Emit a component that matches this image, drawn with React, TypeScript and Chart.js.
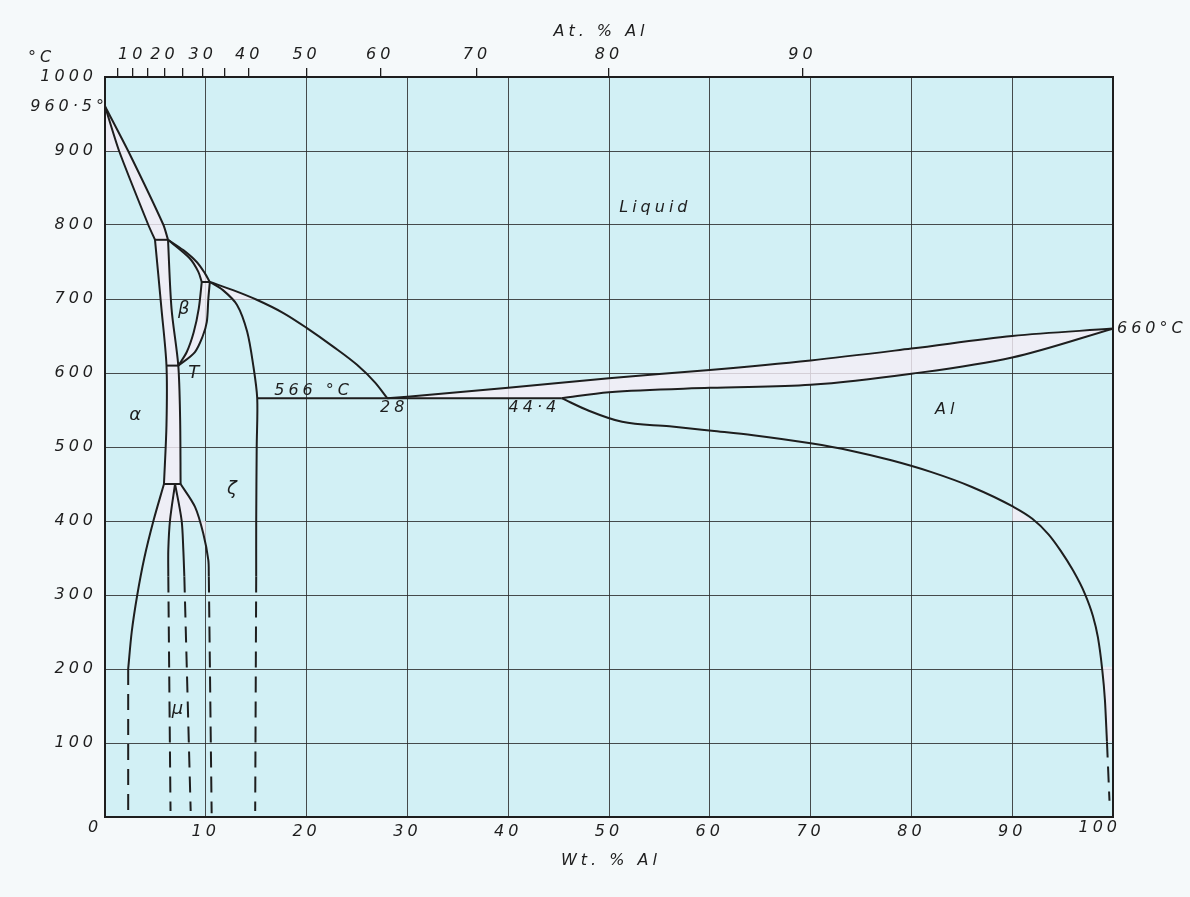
import React, { useEffect, useRef } from 'react';
import { Chart, registerables } from 'chart.js';

Chart.register(...registerables);

type P = [number, number][];

// ---- axes ----
const wtTicks = [0, 10, 20, 30, 40, 50, 60, 70, 80, 90, 100];
const tempTicks = [0, 100, 200, 300, 400, 500, 600, 700, 800, 900, 1000];
// top axis: at.% Al ticks, placed at their wt.% positions
const atTickWt = [1.3, 2.7, 4.2, 5.9, 7.7, 9.7, 11.9, 14.3, 20.0, 27.3, 36.9, 50.0, 69.2];
const atTickLabels = ['', '10', '', '20', '', '30', '', '40', '50', '60', '70', '80', '90'];

// ---- phase boundaries [wt.% Al, °C] ----
const agLiquidus: P = [[0, 960.5], [2.3, 900], [5.8, 800], [6.25, 780]];
const agSolidus: P = [[0, 960.5], [1.4, 900], [4.3, 800], [4.96, 780]];
const peritectic780: P = [[4.96, 780], [6.25, 780]];
const stripLeft: P = [[4.96, 780], [5.6, 687], [6.1, 610], [6.1, 530], [5.85, 450]];
const stripRight: P = [[6.25, 780], [6.6, 687], [7.27, 610], [7.45, 540], [7.5, 450]];
const line610: P = [[6.1, 610], [7.27, 610]];
const eutectoid450: P = [[5.85, 450], [7.5, 450]];
const betaLiquidus: P = [[6.25, 780], [7.77, 766], [9.1, 750], [9.9, 735], [10.4, 723]];
const betaSolidus: P = [[6.25, 780], [8.4, 755], [9.25, 737], [9.6, 723]];
const peritectic723: P = [[9.6, 723], [10.4, 723]];
const betaRight: P = [[7.27, 610], [8.1, 628], [8.8, 655], [9.3, 687], [9.6, 723]];
const zetaLeft: P = [[7.27, 610], [8.9, 628], [9.7, 650], [10.1, 669], [10.25, 700], [10.4, 723]];
const zetaLiquidus: P = [[10.4, 723], [12.7, 712], [15.05, 699], [17.7, 681], [20.0, 661], [22.6, 636], [25.0, 611], [26.8, 587], [28, 566]];
const zetaRight: P = [[10.4, 723], [11.7, 712], [13.1, 692], [14.1, 656], [14.7, 611], [15.1, 566], [15.05, 500], [15.0, 400], [15.0, 325]];
const zetaRightDash: P = [[15.0, 325], [14.9, 8]];
const eutectic566: P = [[15.1, 566], [45.3, 566]];
const alLiquidus: P = [[28, 566], [30, 568], [40, 580], [50, 593], [60, 604], [70, 617], [80, 633], [90, 650], [100, 660]];
const alSolidus: P = [[45.3, 566], [50, 574], [60, 580], [70, 584], [80, 599], [90, 621], [100, 660]];
const alSolvus: P = [[45.3, 566], [48, 549], [51.3, 534], [56, 528], [60.2, 522], [64.3, 516], [70, 505], [74, 495], [78, 482], [82, 466], [86, 446], [90, 420], [92, 403], [93.6, 382], [94.8, 360], [96.0, 334], [97.2, 302], [98.0, 272], [98.5, 243], [98.9, 203], [99.2, 158], [99.4, 102]];
const alSolvusDash: P = [[99.4, 102], [99.65, 22]];
const alphaSolvus: P = [[5.85, 450], [4.8, 400], [3.9, 350], [3.2, 300], [2.65, 250], [2.3, 200]];
const alphaSolvusDash: P = [[2.3, 200], [2.3, 5]];
const muLeft: P = [[6.95, 450], [6.45, 401], [6.28, 361], [6.28, 325]];
const muLeftDash: P = [[6.28, 325], [6.5, 8]];
const muRight: P = [[6.95, 450], [7.6, 401], [7.77, 361], [7.87, 325]];
const muRightDash: P = [[7.87, 325], [8.5, 8]];
const right10: P = [[7.5, 450], [8.93, 419], [9.75, 383], [10.25, 347], [10.3, 325]];
const right10Dash: P = [[10.3, 325], [10.58, 5]];

// ---- shaded two-phase patches ----
const agPatch: P = [[0, 960.5], [1.4, 900], [0, 900]];
const zetaTopPatch: P = [[10.4, 723], [12.7, 712], [15.05, 699], [12.6, 699], [11.7, 712]];
const eutectoidPatch: P = [[5.85, 450], [7.5, 450], [8.93, 419], [9.4, 400], [4.8, 400]];
const patch10: P = [[9.4, 400], [10, 400], [10, 365]];
const alPatch1: P = [[90, 420], [90, 400], [92, 400]];
const alPatch2: P = [[98.9, 203], [100, 203], [100, 102], [99.4, 102], [99.2, 158]];

// ---- text labels [text, wt.%, °C] ----
const regionLabels: [string, number, number][] = [
  ['Liquid', 54.4, 823],
  ['β', 7.8, 686],
  ['T', 8.8, 600],
  ['α', 3.0, 543],
  ['ζ', 12.6, 443],
  ['μ', 7.2, 145],
  ['566 °C', 20.5, 576],
  ['28', 28.5, 553],
  ['44·4', 42.4, 553],
  ['Al', 83.3, 550],
];

const INK = '#1e1e1e';
const GRID = 'rgba(45,45,45,0.85)';
const CYAN = '#d2f0f5';
const LAV = 'rgba(244,237,247,0.82)';
const PAGE = '#f5f9fa';
const FAMILY = '"DejaVu Sans", sans-serif';
const FONT = { family: FAMILY, size: 16, style: 'italic' as const };

const rev = (a: P): P => a.slice().reverse();
const toXY = (a: P) => a.map(([x, y]) => ({ x, y }));

const curve = (a: P, dashed = false, tension = 0.3) => ({
  data: toXY(a),
  showLine: true,
  pointRadius: 0,
  borderColor: INK,
  borderWidth: 2,
  borderDash: dashed ? [16, 9] : [],
  tension,
  fill: false,
  order: 1,
});

// smooth monotone curve (for boundaries whose x increases steadily)
const mono = (a: P) => ({ ...curve(a, false, 0.4), cubicInterpolationMode: 'monotone' });

const area = (a: P) => ({
  data: toXY([...a, a[0]]),
  showLine: true,
  pointRadius: 0,
  borderColor: 'rgba(0,0,0,0)',
  borderWidth: 0,
  backgroundColor: LAV,
  fill: 'shape',
  tension: 0,
  order: 5,
});

const txt = (ctx: CanvasRenderingContext2D, s: string, x: number, y: number, align: CanvasTextAlign = 'center', size = 16) => {
  ctx.save();
  ctx.font = `italic ${size}px ${FAMILY}`;
  (ctx as any).letterSpacing = '4px';
  ctx.fillStyle = INK;
  ctx.textAlign = align;
  ctx.textBaseline = 'middle';
  const dx = align === 'center' ? 2 : align === 'right' ? 4 : 0;
  ctx.fillText(s, x + dx, y);
  ctx.restore();
};

const decor = {
  id: 'decor',
  beforeDraw(chart: any) {
    const { ctx, chartArea: a } = chart;
    ctx.save();
    ctx.fillStyle = PAGE;
    ctx.fillRect(0, 0, chart.width, chart.height);
    ctx.fillStyle = CYAN;
    ctx.fillRect(a.left, a.top, a.right - a.left, a.bottom - a.top);
    ctx.restore();
    (ctx as any).letterSpacing = '4px';
  },
  afterDatasetsDraw(chart: any) {
    const { ctx } = chart;
    const xs = chart.scales.x;
    const ys = chart.scales.y;
    regionLabels.forEach(([s, x, y]) => {
      txt(ctx, s, xs.getPixelForValue(x), ys.getPixelForValue(y), 'center', s.length === 1 ? 18 : 16);
    });
  },
  afterDraw(chart: any) {
    const { ctx, chartArea: a } = chart;
    const xs = chart.scales.x;
    const ys = chart.scales.y;
    ctx.save();
    ctx.strokeStyle = INK;
    ctx.lineWidth = 2;
    ctx.strokeRect(a.left, a.top, a.right - a.left, a.bottom - a.top);
    ctx.restore();
    txt(ctx, '°C', 28, 58, 'left');
    txt(ctx, '960·5°', a.left - 1, ys.getPixelForValue(960.5) + 1, 'right');
    txt(ctx, '0', a.left - 12, a.bottom + 11, 'center');
    txt(ctx, '100', a.right + 4, a.bottom + 11, 'right');
    txt(ctx, '660°C', a.right + 4, ys.getPixelForValue(660), 'left');
    txt(ctx, 'At. % Al', (a.left + a.right) / 2 - 10, 32, 'center');
    txt(ctx, 'Wt. % Al', xs.getPixelForValue(50), 861, 'center');
  },
};

export default function App() {
  const ref = useRef<HTMLCanvasElement>(null);
  useEffect(() => {
    document.body.style.margin = '0';
    document.body.style.background = PAGE;
    const datasets: any[] = [
      area([...agLiquidus, ...rev(agSolidus)]),
      area(agPatch),
      area([...stripLeft, ...rev(stripRight)]),
      area([...betaLiquidus, ...rev(betaSolidus)]),
      area([...betaRight, ...rev(zetaLeft)]),
      area(zetaTopPatch),
      area(eutectoidPatch),
      area(patch10),
      area([...alLiquidus, ...rev(alSolidus)]),
      area(alPatch1),
      area(alPatch2),
      curve(agLiquidus, false, 0.2),
      curve(agSolidus, false, 0.2),
      curve(peritectic780, false, 0),
      curve(stripLeft),
      curve(stripRight),
      curve(line610, false, 0),
      curve(eutectoid450, false, 0),
      curve(betaLiquidus),
      curve(betaSolidus),
      curve(peritectic723, false, 0),
      curve(betaRight),
      curve(zetaLeft),
      mono(zetaLiquidus),
      curve(zetaRight),
      curve(zetaRightDash, true, 0),
      curve(eutectic566, false, 0),
      mono(alLiquidus),
      mono(alSolidus),
      mono(alSolvus),
      curve(alSolvusDash, true, 0),
      curve(alphaSolvus),
      curve(alphaSolvusDash, true, 0),
      curve(muLeft),
      curve(muLeftDash, true, 0),
      curve(muRight),
      curve(muRightDash, true, 0),
      curve(right10),
      curve(right10Dash, true, 0),
    ];
    const chart = new Chart(ref.current as HTMLCanvasElement, {
      type: 'scatter',
      data: { datasets },
      options: {
        animation: false,
        responsive: false,
        maintainAspectRatio: false,
        layout: { padding: { left: 0, right: 77, top: 0, bottom: 0 } },
        plugins: { legend: { display: false }, tooltip: { enabled: false } },
        scales: {
          x: {
            type: 'linear',
            position: 'bottom',
            min: 0,
            max: 100,
            afterBuildTicks: (s: any) => { s.ticks = wtTicks.map((v) => ({ value: v })); },
            afterFit: (s: any) => { s.height = 80; },
            ticks: {
              callback: (v: any) => (v === 0 || v === 100 ? '' : String(v)),
              font: FONT,
              color: INK,
              padding: 5,
              maxRotation: 0,
              autoSkip: false,
            },
            grid: { color: GRID, lineWidth: 1, drawTicks: false },
            border: { display: false },
          },
          x2: {
            type: 'linear',
            position: 'top',
            min: 0,
            max: 100,
            afterBuildTicks: (s: any) => { s.ticks = atTickWt.map((v) => ({ value: v })); },
            afterFit: (s: any) => { s.height = 77; },
            ticks: {
              callback: (_v: any, i: number) => atTickLabels[i],
              font: FONT,
              color: INK,
              padding: 4,
              maxRotation: 0,
              autoSkip: false,
            },
            grid: { drawOnChartArea: false, drawTicks: true, tickLength: 9, color: INK, lineWidth: 1.3 },
            border: { display: false },
          },
          y: {
            type: 'linear',
            min: 0,
            max: 1000,
            afterBuildTicks: (s: any) => { s.ticks = tempTicks.map((v) => ({ value: v })); },
            afterFit: (s: any) => { s.width = 105; },
            ticks: {
              callback: (v: any) => (v === 0 ? '' : String(v)),
              font: FONT,
              color: INK,
              padding: 8,
            },
            grid: { color: GRID, lineWidth: 1, drawTicks: false },
            border: { display: false },
          },
        },
      } as any,
      plugins: [decor],
    });
    return () => chart.destroy();
  }, []);
  return (
    <div style={{ width: 1190, height: 897, background: PAGE }}>
      <canvas ref={ref} width={1190} height={897} style={{ display: 'block' }} />
    </div>
  );
}
